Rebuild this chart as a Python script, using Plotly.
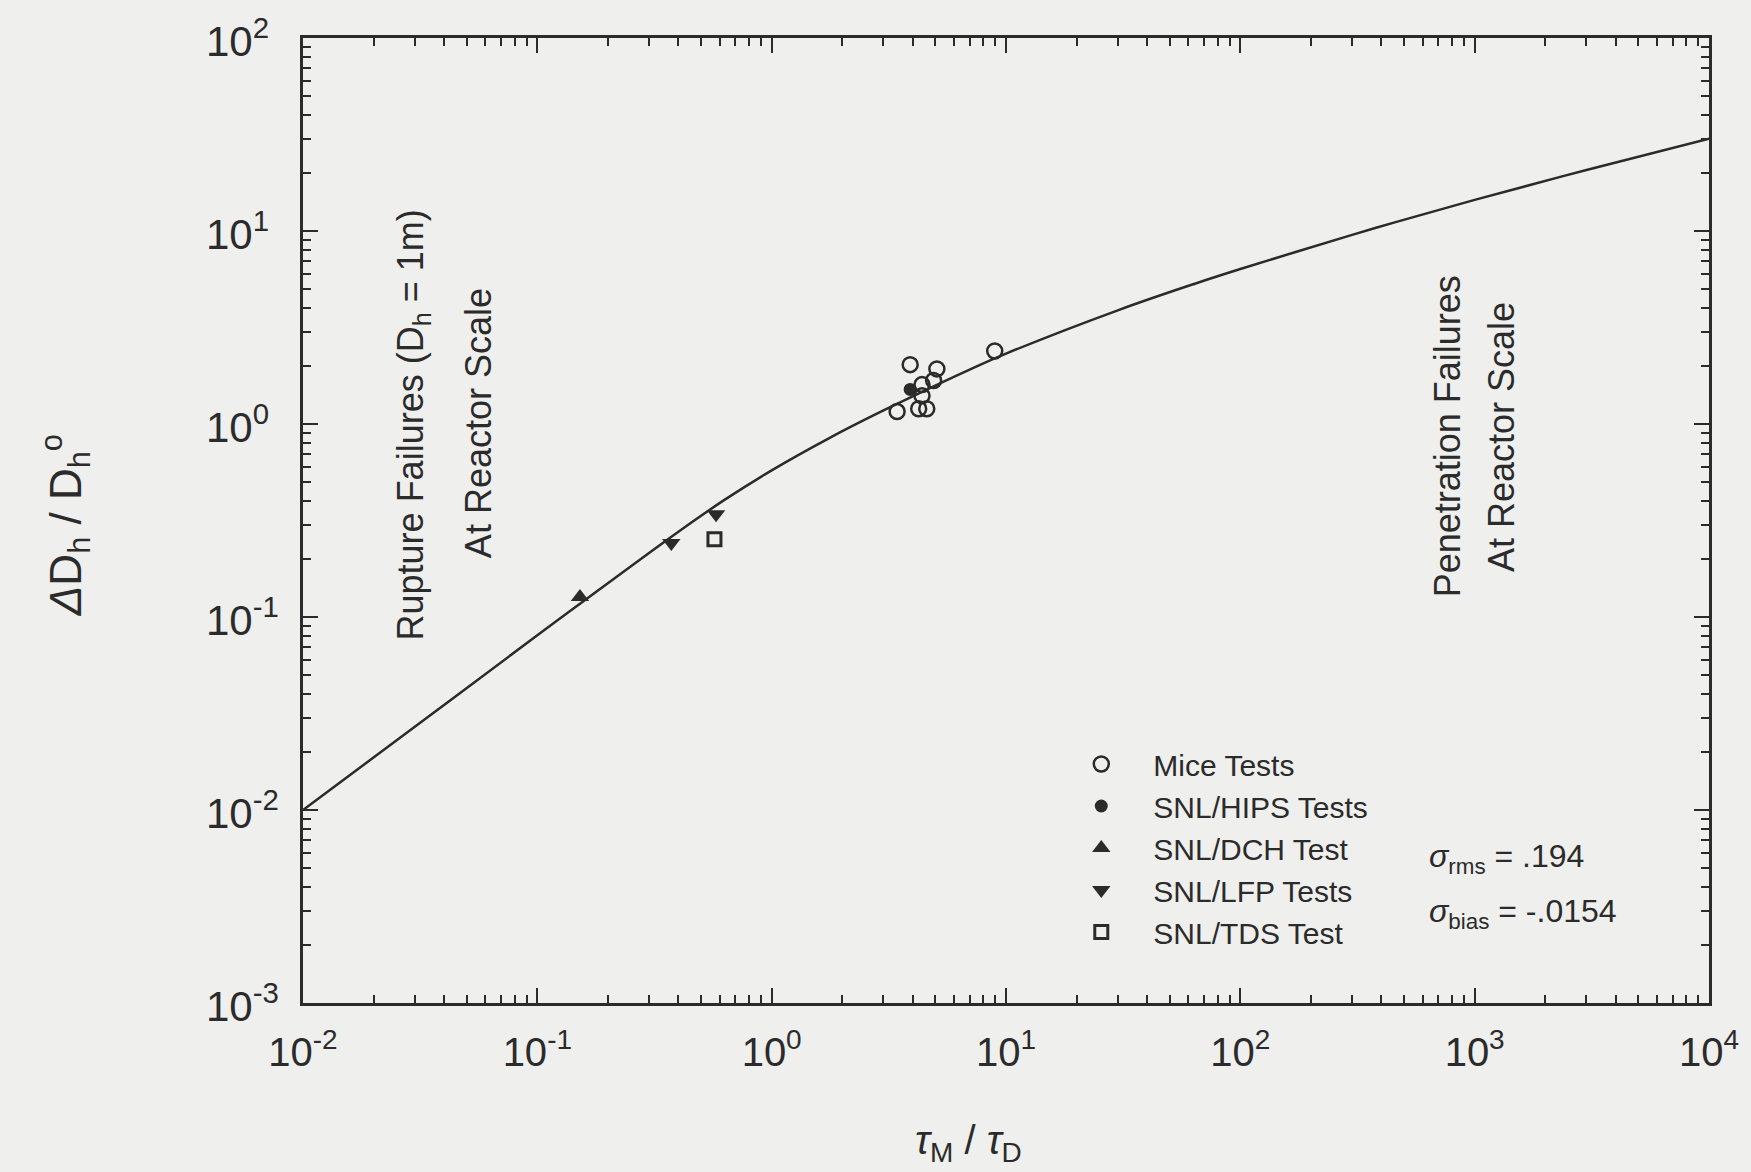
import math
import plotly.graph_objects as go

# ---- data ----
curve_x = [0.01, 0.03, 0.1, 0.145, 0.4, 0.631, 1.0, 1.73, 3.0, 7.5, 10, 30, 64, 100, 300, 456, 1000, 3000, 10000]
curve_y = [0.0100, 0.0270, 0.0804, 0.1122, 0.2767, 0.4055, 0.5754, 0.8356, 1.175, 1.991, 2.317, 3.882, 5.333,
           6.353, 9.550, 11.09, 14.49, 20.70, 30.06]

mice_x = [3.90, 5.07, 4.91, 4.38, 4.38, 3.43, 4.24, 4.59, 8.95]
mice_y = [2.03, 1.93, 1.68, 1.60, 1.40, 1.16, 1.20, 1.20, 2.39]
hips_x = [3.90]
hips_y = [1.51]
dch_x = [0.152]
dch_y = [0.127]
lfp_x = [0.373, 0.579]
lfp_y = [0.242, 0.341]
tds_x = [0.570]
tds_y = [0.253]

x_ticks = [0.01, 0.1, 1, 10, 100, 1000, 10000]
x_ticktext = ["10<sup>-2</sup>", "10<sup>-1</sup>", "10<sup>0</sup>", "10<sup>1</sup>",
              "10<sup>2</sup>", "10<sup>3</sup>", "10<sup>4</sup>"]
y_ticks = [0.001, 0.01, 0.1, 1, 10, 100]
y_ticktext = ["10<sup>-3</sup>", "10<sup>-2</sup>", "10<sup>-1</sup>", "10<sup>0</sup>",
              "10<sup>1</sup>", "10<sup>2</sup>"]

x_minor = [m * 10 ** e for e in range(-2, 4) for m in range(2, 10)]
y_minor = [m * 10 ** e for e in range(-3, 2) for m in range(2, 10)]

INK = "#2b2b2b"
BG = "#efefed"
FONT = "Liberation Sans, Arial, sans-serif"

fig = go.Figure()
fig.add_trace(go.Scatter(x=curve_x, y=curve_y, mode="lines",
                         line=dict(color=INK, width=2.5, shape="spline", smoothing=1.0),
                         showlegend=False, hoverinfo="skip"))
fig.add_trace(go.Scatter(x=mice_x, y=mice_y, mode="markers", name="Mice Tests",
                         marker=dict(symbol="circle-open", size=15, color=INK, line=dict(width=2.5, color=INK))))
fig.add_trace(go.Scatter(x=hips_x, y=hips_y, mode="markers", name="SNL/HIPS Tests",
                         marker=dict(symbol="circle", size=13, color=INK)))
fig.add_trace(go.Scatter(x=dch_x, y=dch_y, mode="markers", name="SNL/DCH Test",
                         marker=dict(symbol="triangle-up", size=16, color=INK)))
fig.add_trace(go.Scatter(x=lfp_x, y=lfp_y, mode="markers", name="SNL/LFP Tests",
                         marker=dict(symbol="triangle-down", size=16, color=INK)))
fig.add_trace(go.Scatter(x=tds_x, y=tds_y, mode="markers", name="SNL/TDS Test",
                         marker=dict(symbol="square-open", size=13, color=INK, line=dict(width=3, color=INK))))

axis_common = dict(type="log", showgrid=False, zeroline=False, showline=True, linecolor=INK, linewidth=3,
                   mirror="allticks", ticks="inside", ticklen=15, tickwidth=2, tickcolor=INK)

fig.update_xaxes(range=[-2, 4], tickmode="array", tickvals=x_ticks, ticktext=x_ticktext,
                 minor=dict(tickmode="array", tickvals=x_minor, ticks="inside", ticklen=8, tickwidth=2,
                            tickcolor=INK, showgrid=False),
                 tickfont=dict(family=FONT, size=40, color=INK),
                 ticklabelstandoff=12, **axis_common)
# y tick labels are left-aligned in the reference, so they are drawn as annotations below
fig.update_yaxes(range=[-3, 2], tickmode="array", tickvals=y_ticks, showticklabels=False,
                 minor=dict(tickmode="array", tickvals=y_minor, ticks="inside", ticklen=8, tickwidth=2,
                            tickcolor=INK, showgrid=False),
                 **axis_common)

L, R, T, B = 303, 35, 38, 169
W, H = 1751, 1172
pw, ph = W - L - R, H - T - B


def px(X):
    return (X - L) / pw


def py(Y):
    return (H - B - Y) / ph


ann_font = dict(family=FONT, size=36, color=INK)
annotations = [
    dict(x=px(414), y=py(425), text="Rupture Failures (D<sub>h</sub> = 1m)", textangle=-90),
    dict(x=px(479), y=py(423), text="At Reactor Scale", textangle=-90),
    dict(x=px(1453), y=py(436), text="Penetration Failures", textangle=-90),
    dict(x=px(1507), y=py(437), text="At Reactor Scale", textangle=-90),
    dict(x=px(1433), y=py(858), text="<i>σ</i><sub>rms</sub> = .194", xanchor="left",
         font=dict(family=FONT, size=32, color=INK)),
    dict(x=px(1433), y=py(913), text="<i>σ</i><sub>bias</sub> = -.0154", xanchor="left",
         font=dict(family=FONT, size=32, color=INK)),
    dict(x=px(64), y=py(525), text="<i>Δ</i>D<sub>h</sub> / D<sub>h</sub><sup>o</sup>", textangle=-90,
         font=dict(family=FONT, size=44, color=INK)),
    dict(x=px(972), y=py(1143), text="<i>τ</i><sub>M</sub> / <i>τ</i><sub>D</sub>",
         font=dict(family=FONT, size=40, color=INK)),
]
for a in annotations:
    a.setdefault("xanchor", "center")
    a.setdefault("yanchor", "middle")
    a.setdefault("font", ann_font)
    a.update(xref="paper", yref="paper", showarrow=False)

for v, t in zip(y_ticks, y_ticktext):
    annotations.append(dict(x=px(204), xref="paper", y=math.log10(v), yref="y", text=t,
                            xanchor="left", yanchor="middle", showarrow=False,
                            font=dict(family=FONT, size=42, color=INK)))

fig.update_layout(
    width=W, height=H, margin=dict(l=L, r=R, t=T, b=B, pad=0),
    paper_bgcolor=BG, plot_bgcolor=BG,
    font=dict(family=FONT, color=INK),
    annotations=annotations,
    legend=dict(x=px(1053), y=py(738), xanchor="left", yanchor="top", bgcolor="rgba(0,0,0,0)",
                font=dict(family=FONT, size=30, color=INK), tracegroupgap=0, itemsizing="trace",
                itemwidth=94),
)

fig.write_html("out.html", config={"displayModeBar": False},
               post_script="document.body.style.margin='0';document.body.style.overflow='hidden';document.body.style.background='%s';" % BG)
